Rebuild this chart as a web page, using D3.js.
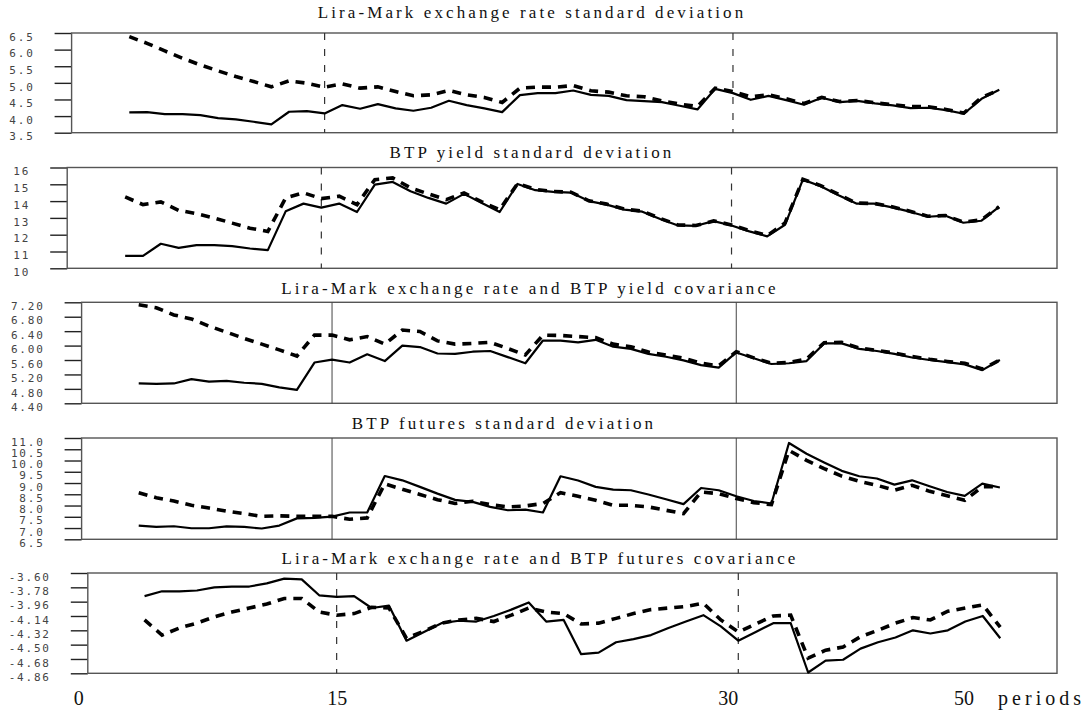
<!DOCTYPE html>
<html>
<head>
<meta charset="utf-8">
<script src="https://cdn.jsdelivr.net/npm/d3@7"></script>
<style>
  body { margin: 0; background: #fff; }
  svg { display: block; }
  .yaxis .tick text { font-family: "DejaVu Sans Mono", monospace; font-size: 11px; fill: #444; letter-spacing: 1.8px; }
  .yaxis .tick line { stroke: #222; stroke-width: 1.4; }
  .title { font-family: "Liberation Serif", serif; font-size: 17px; fill: #111; letter-spacing: 3.1px; }
  .xaxis .tick text { font-family: "Liberation Serif", serif; font-size: 20px; fill: #111; }
</style>
</head>
<body>
<svg id="chart" width="1087" height="713"></svg>
<script>
// Observation index along the horizontal axis (50 observations)
const obs = d3.range(50);

// Panel titles
const titles = [
  "Lira-Mark exchange rate standard deviation",
  "BTP yield standard deviation",
  "Lira-Mark exchange rate and BTP yield covariance",
  "BTP futures standard deviation",
  "Lira-Mark exchange rate and BTP futures covariance"
];

// Lira-Mark exchange rate standard deviation
const lmSdSolid = [4.11,4.12,4.06,4.06,4.03,3.94,3.90,3.83,3.75,4.13,4.15,4.08,4.33,4.22,4.36,4.23,4.16,4.25,4.46,4.33,
  4.23,4.12,4.63,4.69,4.69,4.77,4.64,4.61,4.48,4.45,4.42,4.31,4.20,4.82,4.69,4.49,4.61,4.48,4.34,4.55,
  4.42,4.46,4.38,4.32,4.24,4.25,4.18,4.07,4.52,4.79];
const lmSdDashed = [6.39,6.19,5.96,5.74,5.54,5.36,5.19,5.04,4.88,5.06,4.99,4.87,4.97,4.84,4.88,4.74,4.61,4.64,4.77,4.64,
  4.56,4.41,4.84,4.87,4.87,4.92,4.76,4.72,4.61,4.58,4.46,4.36,4.29,4.84,4.74,4.58,4.64,4.52,4.38,4.56,
  4.44,4.47,4.40,4.34,4.29,4.28,4.20,4.09,4.56,4.79];
const lmSdTicks = [3.5,4.0,4.5,5.0,5.5,6.0,6.5];

// BTP yield standard deviation
const btpSdSolid = [10.74,10.74,11.46,11.22,11.38,11.38,11.32,11.18,11.08,13.39,13.85,13.61,13.85,13.35,14.98,15.14,14.59,14.19,13.85,14.43,
  13.89,13.35,15.02,14.65,14.55,14.51,14.00,13.79,13.49,13.37,12.93,12.55,12.53,12.81,12.55,12.20,11.90,12.59,15.28,14.88,
  14.35,13.85,13.85,13.63,13.37,13.07,13.13,12.71,12.83,13.65];
const btpSdDashed = [14.25,13.79,13.95,13.45,13.25,12.99,12.69,12.39,12.19,14.19,14.49,14.15,14.29,13.79,15.28,15.38,14.79,14.43,14.09,14.49,
  13.95,13.49,15.04,14.70,14.57,14.53,14.02,13.82,13.52,13.40,12.97,12.58,12.55,12.82,12.58,12.24,11.95,12.70,15.30,14.92,
  14.40,13.88,13.86,13.66,13.40,13.10,13.14,12.75,12.88,13.66];
const btpSdTicks = [10,11,12,13,14,15,16];

// Lira-Mark exchange rate and BTP yield covariance
const lmBtpCovSolid = [4.95,4.94,4.95,5.07,5.00,5.02,4.97,4.94,4.84,4.77,5.53,5.61,5.53,5.76,5.57,6.00,5.96,5.78,5.77,5.83,
  5.85,5.68,5.51,6.14,6.14,6.09,6.16,5.97,5.91,5.77,5.69,5.59,5.46,5.39,5.81,5.65,5.49,5.51,5.57,6.06,
  6.06,5.91,5.85,5.77,5.67,5.60,5.54,5.48,5.32,5.60];
const lmBtpCovDashed = [7.13,7.05,6.85,6.74,6.54,6.37,6.20,6.04,5.88,5.71,6.29,6.29,6.16,6.25,6.04,6.43,6.39,6.13,6.04,6.06,
  6.09,5.92,5.74,6.29,6.28,6.25,6.22,6.04,5.97,5.82,5.74,5.65,5.51,5.44,5.83,5.66,5.51,5.53,5.63,6.08,
  6.09,5.93,5.87,5.79,5.70,5.62,5.56,5.51,5.35,5.60];
const lmBtpCovTicks = [4.40,4.80,5.20,5.60,6.00,6.40,6.80,7.20];

// BTP futures standard deviation
const futSdSolid = [7.11,7.05,7.08,6.99,6.99,7.07,7.05,6.98,7.11,7.43,7.45,7.51,7.69,7.69,9.31,9.12,8.83,8.53,8.25,8.16,
  7.94,7.79,7.82,7.69,9.30,9.11,8.83,8.71,8.68,8.49,8.28,8.06,8.78,8.68,8.41,8.20,8.09,10.78,10.30,9.91,
  9.54,9.30,9.20,8.93,9.12,8.86,8.60,8.43,8.97,8.80];
const futSdDashed = [8.57,8.35,8.20,8.01,7.89,7.75,7.64,7.52,7.54,7.52,7.52,7.52,7.39,7.45,8.97,8.72,8.49,8.26,8.09,8.19,
  8.04,7.94,7.98,8.09,8.57,8.41,8.23,8.01,8.01,7.94,7.79,7.64,8.60,8.53,8.31,8.13,8.04,10.45,10.01,9.64,
  9.31,9.08,8.90,8.68,8.90,8.63,8.43,8.23,8.83,8.85];
const futSdTicks = [6.5,7.0,7.5,8.0,8.5,9.0,9.5,10.0,10.5,11.0];

// Lira-Mark exchange rate and BTP futures covariance
const lmFutCovSolid = [-3.89,-3.83,-3.83,-3.82,-3.78,-3.77,-3.77,-3.73,-3.67,-3.68,-3.88,-3.90,-3.89,-4.04,-4.01,-4.45,-4.34,-4.23,-4.20,-4.21,
  -4.14,-4.06,-3.97,-4.21,-4.19,-4.62,-4.60,-4.47,-4.43,-4.38,-4.29,-4.21,-4.13,-4.27,-4.45,-4.34,-4.23,-4.23,-4.85,-4.70,
  -4.69,-4.55,-4.47,-4.41,-4.32,-4.36,-4.32,-4.21,-4.14,-4.42];
const lmFutCovDashed = [-4.19,-4.38,-4.29,-4.23,-4.15,-4.09,-4.04,-3.99,-3.92,-3.92,-4.09,-4.13,-4.11,-4.03,-4.04,-4.42,-4.33,-4.23,-4.19,-4.17,
  -4.21,-4.13,-4.04,-4.09,-4.11,-4.24,-4.23,-4.17,-4.11,-4.06,-4.04,-4.02,-3.98,-4.19,-4.34,-4.24,-4.14,-4.13,-4.67,-4.57,
  -4.53,-4.40,-4.32,-4.23,-4.16,-4.19,-4.08,-4.04,-4.00,-4.28];
const lmFutCovTicks = [-4.86,-4.68,-4.50,-4.32,-4.14,-3.96,-3.78,-3.60];

// Observations marked by vertical reference lines
const markerObs = [11, 34];

// Labels printed under the bottom panel and the observation they sit under
const periodLabels = ["0", "15", "30", "50"];
const periodLabelObs = [-3.8, 11, 33.4, 46.9];

const panels = [
  { title: titles[0], solid: lmSdSolid, dashed: lmSdDashed, ticks: lmSdTicks, digits: 1,
    left: 71.6, top: 33, bottom: 132.7, titleX: 532, titleY: 18, markerDash: true },
  { title: titles[1], solid: btpSdSolid, dashed: btpSdDashed, ticks: btpSdTicks, digits: 0,
    left: 67.2, top: 167.5, bottom: 268.3, titleX: 532, titleY: 158, markerDash: true },
  { title: titles[2], solid: lmBtpCovSolid, dashed: lmBtpCovDashed, ticks: lmBtpCovTicks, digits: 2,
    left: 81.6, top: 302.3, bottom: 403.3, titleX: 530, titleY: 294, markerDash: false },
  { title: titles[3], solid: futSdSolid, dashed: futSdDashed, ticks: futSdTicks, digits: 1,
    left: 81.6, top: 438, bottom: 539.3, titleX: 504, titleY: 429, markerDash: false },
  { title: titles[4], solid: lmFutCovSolid, dashed: lmFutCovDashed, ticks: lmFutCovTicks, digits: 2,
    left: 87.8, top: 573, bottom: 673.3, titleX: 540, titleY: 564, markerDash: true }
];

const svg = d3.select("#chart");
const frameRight = 1057;
const xDomain = [-3.25, 52.25];

let lastX = null;

panels.forEach(p => {
  const x = d3.scaleLinear().domain(xDomain).range([p.left, frameRight]);
  const y = d3.scaleLinear().domain([d3.min(p.ticks), d3.max(p.ticks)]).range([p.bottom, p.top]);
  lastX = x;
  const g = svg.append("g");

  // panel title
  g.append("text").attr("class", "title")
    .attr("x", p.titleX)
    .attr("y", p.titleY)
    .attr("text-anchor", "middle")
    .text(p.title);

  // left axis with long outward ticks
  const axis = d3.axisLeft(y).tickValues(p.ticks).tickSize(17).tickPadding(20)
    .tickFormat(d => d.toFixed(p.digits));
  const ax = g.append("g").attr("class", "yaxis")
    .attr("transform", `translate(${p.left},0)`).call(axis);
  ax.select(".domain").remove();
  ax.selectAll(".tick text").attr("dy", "0.65em").attr("y", 0);

  // frame
  g.append("rect")
    .attr("x", p.left).attr("y", p.top)
    .attr("width", frameRight - p.left).attr("height", p.bottom - p.top)
    .attr("fill", "none").attr("stroke", "#555").attr("stroke-width", 1.4);

  // vertical reference lines
  g.selectAll("line.marker").data(markerObs).join("line")
    .attr("class", "marker")
    .attr("x1", d => x(d)).attr("x2", d => x(d))
    .attr("y1", p.top).attr("y2", p.bottom)
    .attr("stroke", p.markerDash ? "#333" : "#444")
    .attr("stroke-width", p.markerDash ? 1.2 : 1)
    .attr("stroke-dasharray", p.markerDash ? "7,9" : null);

  const line = d3.line().x((d, i) => x(obs[i])).y(d => y(d));

  g.append("path").datum(p.dashed)
    .attr("d", line).attr("fill", "none")
    .attr("stroke", "#000").attr("stroke-width", 3.6)
    .attr("stroke-dasharray", "9,7");

  g.append("path").datum(p.solid)
    .attr("d", line).attr("fill", "none")
    .attr("stroke", "#000").attr("stroke-width", 2.2)
    .attr("stroke-linejoin", "round");
});

// period labels under the bottom panel
const xAxis = d3.axisBottom(lastX).tickValues(periodLabelObs).tickSize(0)
  .tickFormat((d, i) => periodLabels[i]);
const xa = svg.append("g").attr("class", "xaxis")
  .attr("transform", "translate(0,688)").call(xAxis);
xa.select(".domain").remove();

svg.append("text")
  .attr("x", 1085).attr("y", 705)
  .attr("text-anchor", "end")
  .style("font-family", "Liberation Serif, serif")
  .style("font-size", "20px")
  .style("letter-spacing", "4px")
  .attr("fill", "#111")
  .text("periods");
</script>
</body>
</html>
